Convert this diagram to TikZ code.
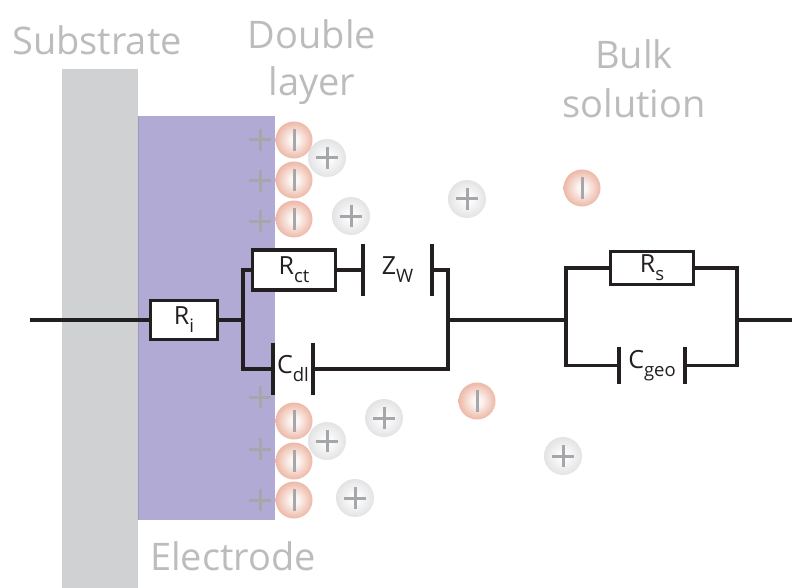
\documentclass[tikz,border=0pt]{standalone}
\usepackage{fontspec}
\setmainfont{Open Sans}
\definecolor{ink}{HTML}{231F20}
\definecolor{labelgray}{HTML}{BBBCBE}
\definecolor{substrategray}{HTML}{D0D1D3}
\definecolor{electrodeblue}{HTML}{B0AAD5}
\definecolor{electrodeedge}{HTML}{9C98C2}
\definecolor{signgray}{HTML}{A6A7AB}
\definecolor{aniedge}{HTML}{E8A38E}
\definecolor{anicore}{HTML}{FCF5F2}
\definecolor{catedge}{HTML}{D8D9DB}
\definecolor{catcore}{HTML}{FBFBFB}
\pgfdeclareradialshading{anionball}{\pgfpoint{0bp}{0bp}}{color(0bp)=(anicore); color(6bp)=(anicore); color(25bp)=(aniedge!75!anicore); color(50bp)=(aniedge)}
\pgfdeclareradialshading{cationball}{\pgfpoint{0bp}{0bp}}{color(0bp)=(catcore); color(6bp)=(catcore); color(25bp)=(catedge!70!catcore); color(50bp)=(catedge)}
\newcommand{\lowsub}[1]{\raisebox{-0.6ex}{\fontsize{18.5}{18.5}\selectfont #1}}
\begin{document}
\begin{tikzpicture}[x=1pt,y=-1pt,
  wire/.style={draw=ink, line width=3.2pt},
  plate/.style={draw=ink, line width=3.6pt},
  resbox/.style={rectangle, draw=ink, line width=3.2pt, fill=white, inner sep=0pt,
    font=\fontsize{25}{25}\selectfont, text=ink},
  capgap/.style={rectangle, inner sep=0pt, font=\fontsize{25}{25}\selectfont, text=ink},
  region/.style={font=\fontsize{38}{38}\selectfont, text=labelgray, anchor=base},
  sign/.style={draw=signgray, line width=3pt},
  anion/.style={shading=anionball},
  cation/.style={shading=cationball}]
\useasboundingbox (0,0) rectangle (792,588);

% substrate and electrode layers
\fill[substrategray] (62,69) rectangle (138,588);
\fill[electrodeblue] (138,116) rectangle (275,520);
\draw[electrodeedge, line width=1pt] (138,116) -- (138,520);

% region labels
\node[region] (substrate) at (97,55) {Substrate};
\node[region] (double) at (312,49) {Double};
\node[region] (layer) at (312,96) {layer};
\node[region] (bulk) at (634,69) {Bulk};
\node[region] (solution) at (634,118) {solution};
\node[region] (electrode) at (233,570) {Electrode};

% surface charges of the electrode
\foreach \y in {140,181,221,397,449,500}
  \draw[sign] (249,\y) -- (271,\y) (260,\y-11) -- (260,\y+11);

% cations
\foreach \x/\y in {327/158, 351/216, 467/199, 384/418, 327/441, 355/498, 563/456}{
  \shade[cation] (\x,\y) circle (19);
  \draw[sign] (\x-11,\y) -- (\x+11,\y) (\x,\y-11) -- (\x,\y+11);
}

% anions
\foreach \x/\y in {294/140, 294/180, 294/219, 294/421, 294/461, 294/500, 582/188, 477/401}{
  \shade[anion] (\x,\y) circle (18.5);
  \draw[sign] (\x,\y-11) -- (\x,\y+11);
}

% equivalent circuit elements
\node[resbox, minimum width=67pt, minimum height=39pt] (ri) at (184,320) {R\lowsub{i}};
\node[resbox, minimum width=83pt, minimum height=40pt] (rct) at (294,270) {R\lowsub{ct}};
\node[capgap, minimum width=69pt, minimum height=52pt] (zw) at (397.5,270) {Z\lowsub{W}};
\node[capgap, minimum width=40pt, minimum height=52pt] (cdl) at (293,369) {C\lowsub{dl}};
\node[resbox, minimum width=83pt, minimum height=33pt] (rs) at (652,268) {R\lowsub{s}};
\node[capgap, minimum width=66pt, minimum height=37pt] (cgeo) at (652,365.5) {C\lowsub{geo}};

% capacitor plates
\foreach \c in {zw,cdl,cgeo}
  \draw[plate] (\c.north west) -- (\c.south west) (\c.north east) -- (\c.south east);

% junctions and terminals
\coordinate (lead) at (30,320);
\coordinate (j1) at (243,320);
\coordinate (j2) at (448,320);
\coordinate (j3) at (566,320);
\coordinate (j4) at (737,320);
\coordinate (tail) at (792,320);

% wiring
\draw[wire] (lead) -- (ri.west);
\draw[wire] (ri.east) -- (j1);
\draw[wire] (rct.west) -| (j1) |- (cdl.west);
\draw[wire] (rct.east) -- (zw.west);
\draw[wire] (zw.east) -| (j2) |- (cdl.east);
\draw[wire] (j2) -- (j3);
\draw[wire] (rs.west) -| (j3) |- (cgeo.west);
\draw[wire] (rs.east) -| (j4) |- (cgeo.east);
\draw[wire] (j4) -- (tail);
\end{tikzpicture}
\end{document}
